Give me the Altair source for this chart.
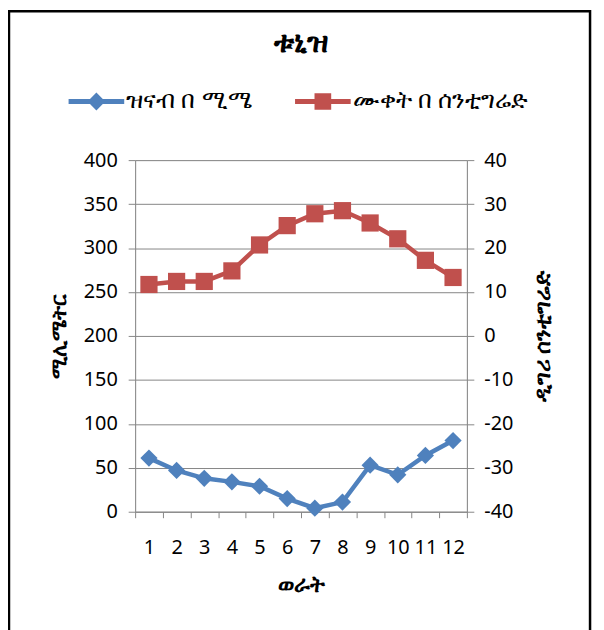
import altair as alt
import pandas as pd

months = [1, 2, 3, 4, 5, 6, 7, 8, 9, 10, 11, 12]
rain_mm = [61, 47, 38, 34, 29, 15, 4, 11, 53, 42, 64, 81]
temp_c = [11.7, 12.4, 12.4, 14.8, 20.7, 25.1, 27.8, 28.5, 25.7, 22.1, 17.2, 13.3]
series_names = ["ዝናብ በ ሚሜ", "ሙቀት በ ሰንቲግሬድ"]
series_colors = ["#4F81BD", "#C0504D"]
chart_title = "ቱኒዝ"
x_title = "ወራት"
left_title = "ሚሊሜትር"
right_title = "ዲግሪ ሰንቲግሬድ"
left_ticks = [0, 50, 100, 150, 200, 250, 300, 350, 400]
right_ticks = [-40, -30, -20, -10, 0, 10, 20, 30, 40]

FONT = "Noto Sans"
GRAY = "#868686"
LABEL_SIZE = 20
TITLE_SIZE = 21

df = pd.DataFrame({"month": months, "rain": rain_mm, "temp": temp_c})
legend_df = pd.DataFrame({"series": series_names})
frame_df = pd.DataFrame({"a": [0]})

diamond_path = ("M-1,-0.09L-0.23,-0.09L0,-0.32L0.23,-0.09L1,-0.09L1,0.09L0.23,0.09"
                "L0,0.32L-0.23,0.09L-1,0.09Z")
square_path = ("M-1,-0.09L-0.3,-0.09L-0.3,-0.3L0.3,-0.3L0.3,-0.09L1,-0.09L1,0.09"
               "L0.3,0.09L0.3,0.3L-0.3,0.3L-0.3,0.09L-1,0.09Z")

x_enc = alt.X(
    "month:O",
    scale=alt.Scale(type="band", paddingInner=0, paddingOuter=0),
    axis=alt.Axis(
        title=x_title, tickBand="extent", labelAngle=0, labelOverlap=False,
        labelFontSize=LABEL_SIZE, labelPadding=20, tickSize=6, tickColor=GRAY,
        domainColor=GRAY, grid=False, titleFontSize=22, titleFontWeight="bold",
        titlePadding=17, labelColor="black", titleColor="black",
    ),
)

y_left = alt.Y(
    "rain:Q",
    scale=alt.Scale(domain=[0, 400], nice=False),
    axis=alt.Axis(
        title=left_title, values=left_ticks, labelFontSize=LABEL_SIZE, labelPadding=11,
        tickSize=7, tickColor=GRAY, domainColor=GRAY, grid=True, gridColor=GRAY,
        titleFontSize=TITLE_SIZE, titleFontWeight="bold", titlePadding=14,
        labelColor="black", titleColor="black",
    ),
)

y_right = alt.Y(
    "temp:Q",
    scale=alt.Scale(domain=[-40, 40], nice=False),
    axis=alt.Axis(
        orient="right", title=right_title, values=right_ticks, labelFontSize=LABEL_SIZE,
        labelExpr="datum.value + ''",
        labelPadding=10, tickSize=7, tickColor=GRAY, domainColor=GRAY, grid=False,
        titleFontSize=22, titleFontWeight="bold", titlePadding=20, titleAngle=270,
        titleBaseline="top", labelColor="black", titleColor="black",
    ),
)

base = alt.Chart(df)

rain_line = base.mark_line(color=series_colors[0], strokeWidth=4.5).encode(x=x_enc, y=y_left)
rain_pts = base.mark_point(shape="diamond", filled=True, size=300, opacity=1,
                           color=series_colors[0]).encode(x=x_enc, y=y_left)

legend_spec = alt.Legend(
    title=None, orient="none", legendX=-67, legendY=-87, direction="horizontal",
    labelFontSize=24, labelFont=FONT, labelColor="black", symbolSize=3136,
    symbolOpacity=1, symbolStrokeWidth=0, labelOffset=2, columnPadding=44,
    labelLimit=400,
)
legend_layer = alt.Chart(legend_df).mark_point(filled=True, opacity=0).encode(
    x=alt.value(0),
    y=alt.value(0),
    color=alt.Color("series:N", scale=alt.Scale(domain=series_names, range=series_colors),
                    legend=legend_spec),
    shape=alt.Shape("series:N", scale=alt.Scale(domain=series_names,
                                                range=[diamond_path, square_path]),
                    legend=legend_spec),
)

frame = alt.Chart(frame_df).mark_rect(fillOpacity=0, stroke="black", strokeWidth=2.5).encode(
    x=alt.value(-127), x2=alt.value(458), y=alt.value(-150), y2=alt.value(700)
)

left = alt.layer(frame, rain_line, rain_pts, legend_layer)

temp_line = base.mark_line(color=series_colors[1], strokeWidth=4.5).encode(x=x_enc, y=y_right)
temp_pts = base.mark_point(shape="square", filled=True, size=300, opacity=1,
                           color=series_colors[1]).encode(x=x_enc, y=y_right)
right = alt.layer(temp_line, temp_pts)

chart = (
    alt.layer(left, right)
    .resolve_scale(y="independent")
    .properties(
        width=334, height=354,
        title=alt.TitleParams(chart_title, fontSize=30, fontWeight="bold", font=FONT,
                              anchor="middle", offset=28, dy=76, color="black"),
        autosize=alt.AutoSizeParams(type="none"),
        padding={"left": 128, "top": 151, "right": 130, "bottom": 130},
    )
    .configure_view(stroke=None)
    .configure(font=FONT)
    .configure_axis(labelFont=FONT, titleFont=FONT)
)

chart.save("out.html", embed_options={"renderer": "svg", "actions": False})
